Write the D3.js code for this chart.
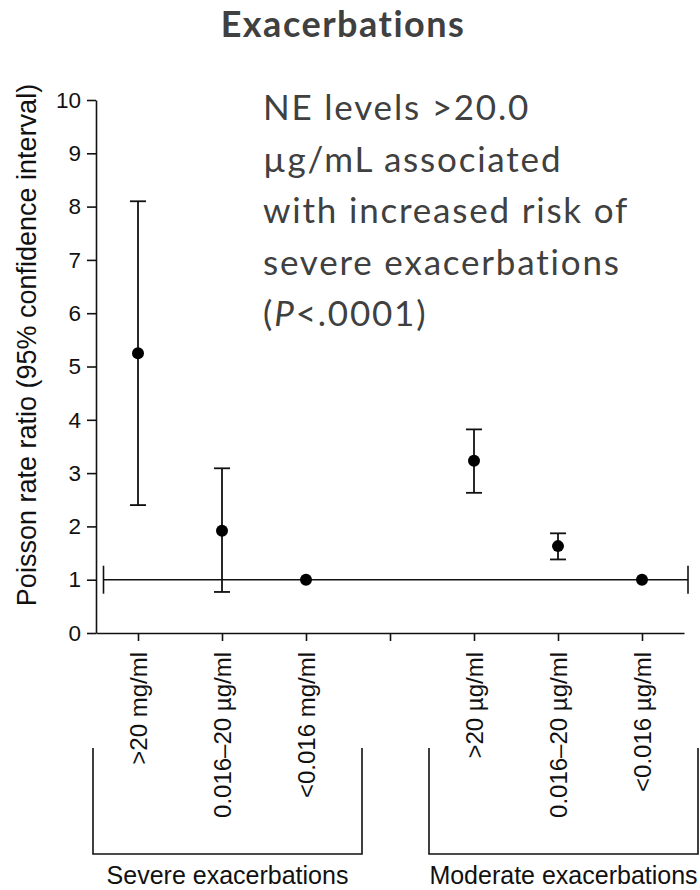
<!DOCTYPE html>
<html>
<head>
<meta charset="utf-8">
<script src="https://cdn.jsdelivr.net/npm/d3@7"></script>
<style>
    body { margin: 0; background: #ffffff; }
    svg { display: block; }
</style>
</head>
<body>
<svg id="canvas"></svg>
<script>
// chart data
const categoryKeys = ['sev-high', 'sev-mid', 'sev-low', 'gap', 'mod-high', 'mod-mid', 'mod-low'];
const categoryLabels = ['>20 mg/ml', '0.016–20 µg/ml', '<0.016 mg/ml', '', '>20 µg/ml', '0.016–20 µg/ml', '<0.016 µg/ml'];
const rateRatio = [5.25, 1.92, 1.0, null, 3.23, 1.63, 1.0];
const ciLower = [2.4, 0.77, null, null, 2.63, 1.38, null];
const ciUpper = [8.1, 3.09, null, null, 3.82, 1.87, null];
const yTicks = [0, 1, 2, 3, 4, 5, 6, 7, 8, 9, 10];
const referenceValue = 1;

const groupNames = ['Severe exacerbations', 'Moderate exacerbations'];
const groupMembers = [['sev-high', 'sev-low'], ['mod-high', 'mod-low']];

const titleText = 'Exacerbations';
const yTitle = 'Poisson rate ratio (95% confidence interval)';
const noteLines = ['NE levels >20.0', 'µg/mL associated', 'with increased risk of', 'severe exacerbations'];

let width = 700;
let height = 890;

let plotLeft = 96;
let plotRight = 684;
let plotTop = 100;
let plotBottom = 633;

let xScale;
let yScale;

let canvas = d3.select('#canvas');
canvas.attr('width', width);
canvas.attr('height', height);

let axisFont = 'Liberation Sans, Arial, Helvetica, sans-serif';
let noteFont = 'Lato, Noto Sans, sans-serif';

function generateScales () {
    xScale = d3.scalePoint()
                .domain(categoryKeys)
                .range([plotLeft, plotRight])
                .padding(0.5);

    yScale = d3.scaleLinear()
                .domain([0, 10])
                .range([plotBottom, plotTop]);
}

function drawAxis () {
    let yAxis = d3.axisLeft(yScale)
                    .tickValues(yTicks)
                    .tickFormat(d3.format('d'))
                    .tickSize(9)
                    .tickSizeOuter(0)
                    .tickPadding(6);

    let yG = canvas.append('g')
            .attr('id', 'y-axis')
            .attr('transform', 'translate(' + plotLeft + ', 0)')
            .call(yAxis);

    yG.selectAll('text')
        .attr('font-family', axisFont)
        .attr('font-size', 22.5)
        .attr('fill', '#111');

    let xAxis = d3.axisBottom(xScale)
                    .tickSize(8)
                    .tickSizeOuter(0)
                    .tickFormat((d, i) => categoryLabels[i]);

    let xG = canvas.append('g')
            .attr('id', 'x-axis')
            .attr('transform', 'translate(0, ' + plotBottom + ')')
            .call(xAxis);

    // rotate the category labels so they read bottom to top
    xG.selectAll('text')
        .attr('font-family', axisFont)
        .attr('font-size', 24)
        .attr('fill', '#111')
        .attr('text-anchor', 'end')
        .attr('transform', 'translate(0, 19) rotate(-90)')
        .attr('x', 0)
        .attr('y', 0)
        .attr('dy', '0.36em');

    canvas.selectAll('.domain, .tick line')
        .attr('stroke', '#111')
        .attr('stroke-width', 1.6);

    canvas.append('text')
        .attr('transform', 'translate(36, 345) rotate(-90)')
        .attr('text-anchor', 'middle')
        .attr('font-family', axisFont)
        .attr('font-size', 27)
        .attr('fill', '#111')
        .text(yTitle);
}

function drawReference () {
    let x1 = plotLeft + 7.5;
    let x2 = plotRight + 4;
    let y = yScale(referenceValue);

    let g = canvas.append('g')
                .attr('stroke', '#111')
                .attr('stroke-width', 1.6);

    g.append('line')
        .attr('x1', x1).attr('x2', x2)
        .attr('y1', y).attr('y2', y);

    // end caps of the reference line
    [x1, x2].forEach((x) => {
        g.append('line')
            .attr('x1', x).attr('x2', x)
            .attr('y1', y - 14).attr('y2', y + 14);
    });
}

function drawPoints () {
    let values = categoryKeys.map((key, i) => {
        return { key: key, value: rateRatio[i], lower: ciLower[i], upper: ciUpper[i] };
    });

    let withCi = values.filter((item) => item.lower !== null);

    let bars = canvas.append('g')
                .attr('stroke', '#111')
                .attr('stroke-width', 1.8);

    bars.selectAll('line.whisker')
        .data(withCi)
        .enter()
        .append('line')
        .attr('class', 'whisker')
        .attr('x1', (item) => xScale(item.key))
        .attr('x2', (item) => xScale(item.key))
        .attr('y1', (item) => yScale(item.lower))
        .attr('y2', (item) => yScale(item.upper));

    // caps on both ends
    ['lower', 'upper'].forEach((end) => {
        bars.selectAll('line.cap-' + end)
            .data(withCi)
            .enter()
            .append('line')
            .attr('class', 'cap-' + end)
            .attr('x1', (item) => xScale(item.key) - 8)
            .attr('x2', (item) => xScale(item.key) + 8)
            .attr('y1', (item) => yScale(item[end]))
            .attr('y2', (item) => yScale(item[end]));
    });

    canvas.selectAll('circle.point')
        .data(values.filter((item) => item.value !== null))
        .enter()
        .append('circle')
        .attr('class', 'point')
        .attr('cx', (item) => xScale(item.key))
        .attr('cy', (item) => yScale(item.value))
        .attr('r', 6)
        .attr('fill', '#000');
}

function drawGroups () {
    let top = 748;
    let bottom = 854;

    groupNames.forEach((name, i) => {
        let left = xScale(groupMembers[i][0]) - 45;
        let right = xScale(groupMembers[i][1]) + 56;

        canvas.append('path')
            .attr('d', 'M' + left + ',' + top + 'V' + bottom + 'H' + right + 'V' + top)
            .attr('fill', 'none')
            .attr('stroke', '#111')
            .attr('stroke-width', 1.6);

        canvas.append('text')
            .attr('x', (left + right) / 2)
            .attr('y', 884)
            .attr('text-anchor', 'middle')
            .attr('font-family', axisFont)
            .attr('font-size', 25)
            .attr('fill', '#111')
            .text(name);
    });
}

function drawNotes () {
    canvas.append('text')
        .attr('x', 343)
        .attr('y', 37)
        .attr('text-anchor', 'middle')
        .attr('font-family', noteFont)
        .attr('font-weight', 'bold')
        .attr('font-size', 36)
        .attr('letter-spacing', 1.5)
        .attr('fill', '#404040')
        .text(titleText);

    let note = canvas.append('text')
                .attr('font-family', noteFont)
                .attr('font-size', 35)
                .attr('letter-spacing', 1.8)
                .attr('fill', '#404040');

    noteLines.forEach((line, i) => {
        note.append('tspan')
            .attr('x', 263)
            .attr('y', 120 + i * 51.5)
            .text(line);
    });

    let last = note.append('tspan')
                .attr('x', 263)
                .attr('y', 120 + 4 * 51.5);
    last.append('tspan').text('(');
    last.append('tspan').attr('font-style', 'italic').text('P');
    last.append('tspan').text('<.0001)');
}

generateScales();
drawAxis();
drawReference();
drawPoints();
drawGroups();
drawNotes();
</script>
</body>
</html>
